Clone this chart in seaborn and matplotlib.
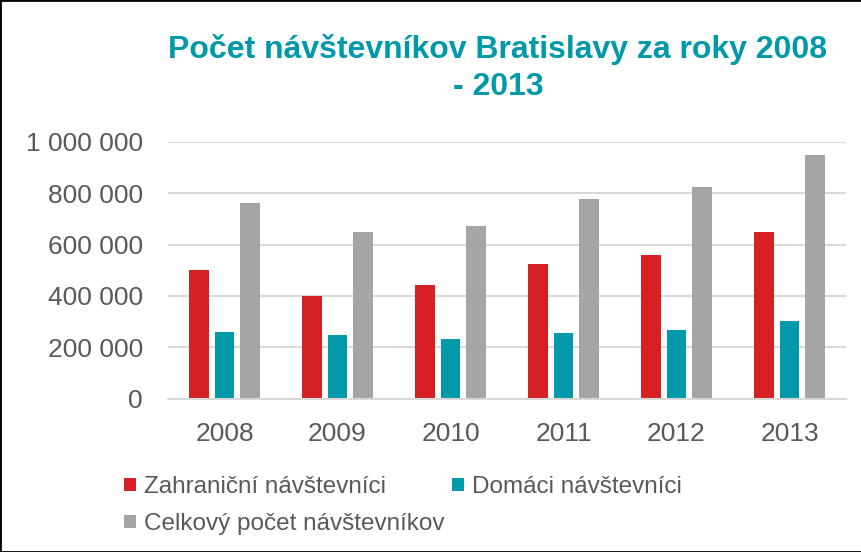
"""Počet návštevníkov Bratislavy 2008 - 2013, grouped bars."""
import matplotlib
matplotlib.use('Agg')
import matplotlib.pyplot as plt
from matplotlib.patches import Rectangle
from matplotlib.ticker import FuncFormatter
import pandas as pd
import seaborn as sns

years = ['2008', '2009', '2010', '2011', '2012', '2013']
series = ['Zahraniční návštevníci', 'Domáci návštevníci', 'Celkový počet návštevníkov']
foreign = [500000, 400000, 441000, 523000, 558000, 647000]
domestic = [260000, 248000, 233000, 256000, 266000, 301000]
total = [760000, 650000, 673000, 777000, 824000, 948000]
colors = ['#D62023', '#0099AA', '#A5A5A5']

rows = []
for name, vals in zip(series, [foreign, domestic, total]):
    for y, v in zip(years, vals):
        rows.append({'rok': y, 'séria': name, 'počet': v})
df = pd.DataFrame(rows)

sns.set_style('white')
plt.rcParams['font.family'] = ['Liberation Sans', 'DejaVu Sans']
text_col = '#595959'

fig = plt.figure(figsize=(8.62, 5.52), dpi=100)
ax = fig.add_axes([0.1949, 0.2777, 0.7865, 0.4656])

sns.barplot(data=df, x='rok', y='počet', hue='séria', hue_order=series,
            palette=colors, width=0.67, gap=0.22, saturation=1,
            edgecolor='none', ax=ax)

ax.set_xlim(-0.5, 5.5)
ax.set_ylim(0, 1000000)
ax.set_yticks(range(0, 1000001, 200000))
ax.yaxis.set_major_formatter(FuncFormatter(lambda v, p: f'{int(v):,}'.replace(',', ' ')))
ax.grid(axis='y', color='#D9D9D9', lw=1.5)
ax.set_axisbelow(True)
for s in ['top', 'right', 'left']:
    ax.spines[s].set_visible(False)
ax.spines['bottom'].set_color('#D9D9D9')
ax.spines['bottom'].set_linewidth(1.5)
ax.tick_params(length=0, labelsize=19, labelcolor=text_col)
ax.tick_params(axis='y', pad=18)
ax.tick_params(axis='x', pad=17)
ax.set_xlabel('')
ax.set_ylabel('')

# legend flows row by row like in Excel: put "Celkový" under "Zahraniční"
handles, labels = ax.get_legend_handles_labels()
ax.get_legend().remove()
order = [0, 2, 1]
fig.legend([handles[i] for i in order], [labels[i] for i in order], ncol=2,
           loc='upper left', bbox_to_anchor=(124 / 862, 1 - 476 / 552),
           frameon=False, fontsize=17.5, labelcolor=text_col,
           handlelength=0.48, handleheight=0.48, handletextpad=0.35,
           columnspacing=0.3, labelspacing=0.62, borderpad=0, borderaxespad=0)

fig.text(498 / 862, 1 - 68 / 552, 'Počet návštevníkov Bratislavy za roky 2008\n- 2013',
         ha='center', va='center', fontsize=23, fontweight='bold',
         color='#0099AA', linespacing=1.3)

fig.patches.append(Rectangle((0, 0), 1, 1, transform=fig.transFigure,
                             fill=False, edgecolor='black', lw=2))

fig.savefig('out.png', dpi=100)
